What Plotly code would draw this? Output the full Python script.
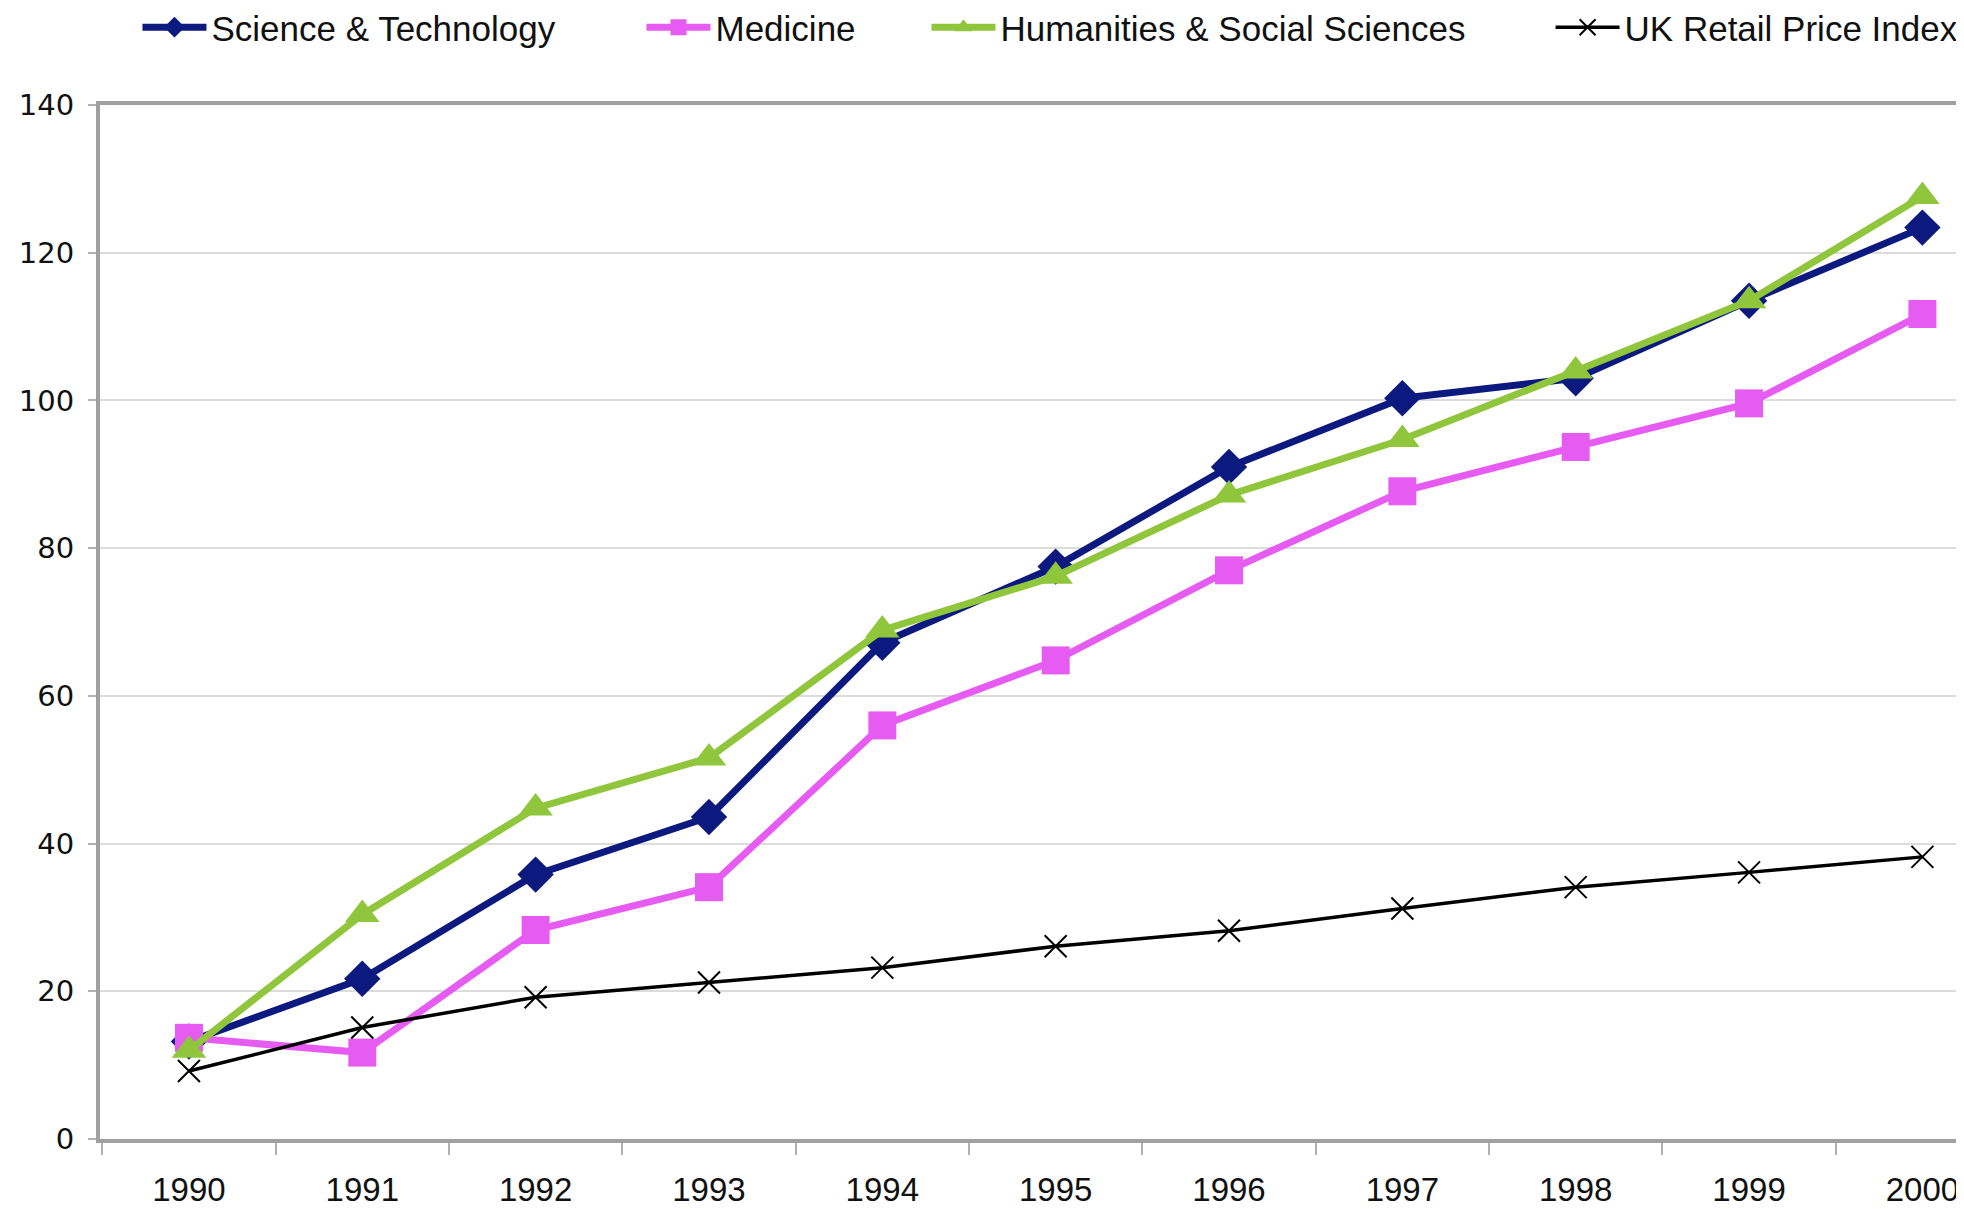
import plotly.graph_objects as go

years = [1990, 1991, 1992, 1993, 1994, 1995, 1996, 1997, 1998, 1999, 2000]
science_tech = [13.2, 21.7, 35.8, 43.6, 67.2, 77.5, 91.0, 100.3, 103.0, 113.5, 123.4]
medicine = [13.7, 11.7, 28.3, 34.1, 56.0, 64.8, 77.0, 87.7, 93.7, 99.6, 111.7]
humanities = [12.0, 30.4, 44.8, 51.6, 68.9, 76.2, 87.2, 94.7, 104.0, 113.5, 127.6]
retail_price = [9.2, 15.1, 19.2, 21.2, 23.2, 26.1, 28.2, 31.2, 34.1, 36.1, 38.2]
y_ticks = [0, 20, 40, 60, 80, 100, 120, 140]

series = [
    ("Science & Technology", science_tech, "#0c1a80", "diamond", 28, 7, "legend", 0.0201),
    ("Medicine", medicine, "#e65cf2", "square", 28, 7, "legend2", 0.2905),
    ("Humanities & Social Sciences", humanities, "#8fc63c", "triangle-up", 30, 7, "legend3", 0.4434),
    ("UK Retail Price Index", retail_price, "#000000", "x-thin-open", 22, 3.5, "legend4", 0.7782),
]

sans = "Liberation Sans, Arial, Helvetica, sans-serif"
wide = "DejaVu Sans, Verdana, sans-serif"

fig = go.Figure()
legends = {}
for name, vals, color, sym, size, lw, lg, lx in series:
    fig.add_trace(go.Scatter(
        x=years, y=vals, name=name, mode="lines+markers", legend=lg,
        line=dict(color=color, width=lw),
        marker=dict(symbol=sym, size=size, color=color,
                    line=dict(color=color, width=2 if sym.startswith("x") else 0)),
    ))
    legends[lg] = dict(orientation="h", x=lx, xanchor="left", y=1.075, yanchor="middle",
                       font=dict(size=35, family=sans, color="#111111"), itemwidth=64,
                       bgcolor="rgba(0,0,0,0)")

fig.update_layout(
    width=1964, height=1209,
    paper_bgcolor="white", plot_bgcolor="white",
    margin=dict(l=92, r=8, t=97, b=78, autoexpand=False),
    font=dict(family=sans, color="#111111", size=32),
    showlegend=True,
    **legends,
)
fig.update_xaxes(
    range=[1989.487, 2000.24], tickmode="array", tickvals=years,
    ticktext=[str(y) for y in years], ticks="", showgrid=False,
    showline=True, linecolor="#a0a0a0", linewidth=4, mirror=True,
    tickfont=dict(size=33, family=sans, color="#111111"), ticklabelstandoff=18,
    automargin=False, zeroline=False,
    minor=dict(tick0=1989.5, dtick=1, ticks="outside", ticklen=12,
               tickcolor="#b0b0b0", tickwidth=2, showgrid=False),
)
fig.update_yaxes(
    range=[0, 140], tickmode="array", tickvals=y_ticks,
    showgrid=True, gridcolor="#dcdcdc", gridwidth=2,
    showline=True, linecolor="#a0a0a0", linewidth=4,
    ticks="outside", ticklen=8, tickcolor="#b0b0b0", tickwidth=2,
    tickfont=dict(size=29, family=wide, color="#111111"), ticklabelstandoff=8,
    automargin=False, zeroline=False,
)
fig.write_html("out.html")
